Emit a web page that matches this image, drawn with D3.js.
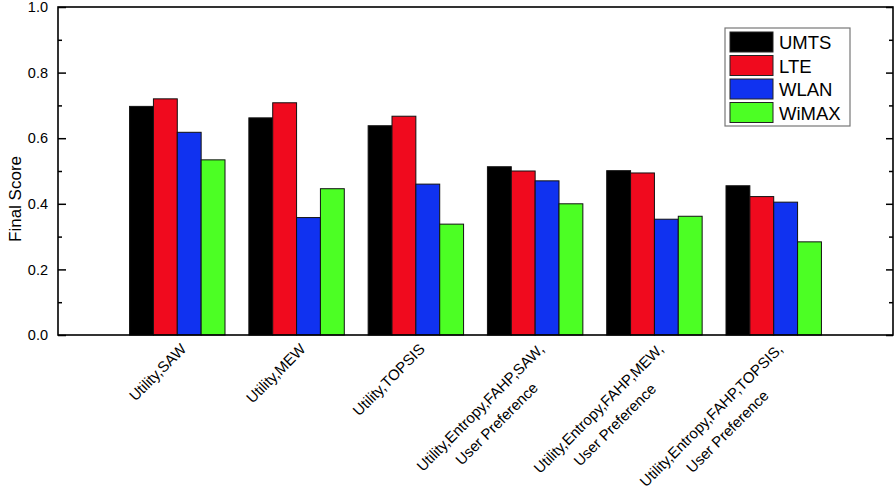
<!DOCTYPE html>
<html>
<head>
<meta charset="utf-8">
<script src="https://cdn.jsdelivr.net/npm/d3@7"></script>
<style>
  html, body { margin: 0; padding: 0; background: #fff; }
  svg { display: block; font-family: Arial, "Liberation Sans", sans-serif; }
</style>
</head>
<body>
<svg id="chart" width="895" height="495"></svg>
<script>
// ---- data ----
const categories = [
  ["Utility,SAW"],
  ["Utility,MEW"],
  ["Utility,TOPSIS"],
  ["Utility,Entropy,FAHP,SAW,", "User Preference"],
  ["Utility,Entropy,FAHP,MEW,", "User Preference"],
  ["Utility,Entropy,FAHP,TOPSIS,", "User Preference"]
];
const seriesNames = ["UMTS", "LTE", "WLAN", "WiMAX"];
const umts  = [0.697, 0.662, 0.638, 0.513, 0.501, 0.455];
const lte   = [0.720, 0.708, 0.667, 0.500, 0.494, 0.422];
const wlan  = [0.618, 0.358, 0.460, 0.470, 0.353, 0.405];
const wimax = [0.534, 0.446, 0.338, 0.400, 0.362, 0.284];
const yMajorTicks = [0.0, 0.2, 0.4, 0.6, 0.8, 1.0];
const yMinorTicks = [0.1, 0.3, 0.5, 0.7, 0.9];
const colors = ["#000000", "#F00A1E", "#1032F0", "#4CFF24"];
const yTitle = "Final Score";

const series = [umts, lte, wlan, wimax];

// ---- layout ----
const FONT = "Arial, 'Liberation Sans', sans-serif";
const svg = d3.select("#chart");
const L = 58, R = 893, T = 7, B = 335;
const x = d3.scaleLinear().domain([0, categories.length + 1]).range([L, R]);
const y = d3.scaleLinear().domain([0, 1]).range([B, T]);
const barW = 0.2;

// bars
series.forEach((vals, j) => {
  svg.append("g").selectAll("rect").data(vals).join("rect")
    .attr("x", (d, i) => x(i + 1 - 0.4 + j * barW))
    .attr("width", x(barW) - x(0))
    .attr("y", d => y(d))
    .attr("height", d => y(0) - y(d))
    .attr("fill", colors[j])
    .attr("stroke", "#111")
    .attr("stroke-width", 1);
});

// frame
svg.append("rect").attr("x", L).attr("y", T).attr("width", R - L).attr("height", B - T)
  .attr("fill", "none").attr("stroke", "#000").attr("stroke-width", 1.6);

// left axis
const leftAxis = d3.axisLeft(y).tickValues(yMajorTicks).tickFormat(d3.format(".1f"))
  .tickSizeInner(-8).tickSizeOuter(0).tickPadding(10);
const gl = svg.append("g").attr("transform", `translate(${L},0)`).call(leftAxis)
  .attr("font-family", FONT).attr("font-size", 14.5);
gl.select(".domain").remove();
gl.selectAll("line").attr("stroke", "#000").attr("stroke-width", 1.5);
gl.selectAll("text").attr("fill", "#000");
const glm = svg.append("g").attr("transform", `translate(${L},0)`)
  .call(d3.axisLeft(y).tickValues(yMinorTicks).tickSizeInner(-4).tickSizeOuter(0).tickFormat(""));
glm.select(".domain").remove();
glm.selectAll("line").attr("stroke", "#000").attr("stroke-width", 1.5);

// right axis
const gr = svg.append("g").attr("transform", `translate(${R},0)`)
  .call(d3.axisRight(y).tickValues(yMajorTicks).tickSizeInner(-7).tickSizeOuter(0).tickFormat(""));
gr.select(".domain").remove();
gr.selectAll("line").attr("stroke", "#000").attr("stroke-width", 1.5);
const grm = svg.append("g").attr("transform", `translate(${R},0)`)
  .call(d3.axisRight(y).tickValues(yMinorTicks).tickSizeInner(-4).tickSizeOuter(0).tickFormat(""));
grm.select(".domain").remove();
grm.selectAll("line").attr("stroke", "#000").attr("stroke-width", 1.5);

// y title
svg.append("text")
  .attr("transform", `translate(21,199) rotate(-90)`)
  .attr("text-anchor", "middle")
  .attr("font-family", FONT)
  .attr("font-size", 17)
  .attr("fill", "#000")
  .text(yTitle);

// x labels
const lineH = 23;
categories.forEach((lines, i) => {
  const g = svg.append("g")
    .attr("transform", `translate(${x(i + 1) + 10},${B + 15}) rotate(-45)`)
    .attr("font-family", FONT).attr("font-size", 15).attr("fill", "#000");
  const t1 = g.append("text").attr("text-anchor", "end").attr("x", 0).attr("y", 0).text(lines[0]);
  if (lines.length > 1) {
    const w1 = t1.node().getComputedTextLength();
    g.append("text").attr("text-anchor", "middle").attr("x", -w1 / 2).attr("y", lineH).text(lines[1]);
  }
});

// legend
const lg = svg.append("g");
lg.append("rect").attr("x", 725).attr("y", 28).attr("width", 125).attr("height", 98)
  .attr("fill", "#fff").attr("stroke", "#777").attr("stroke-width", 1.2);
seriesNames.forEach((name, j) => {
  const yy = 32 + j * 23.5;
  lg.append("rect").attr("x", 730).attr("y", yy).attr("width", 43).attr("height", 20)
    .attr("fill", colors[j]).attr("stroke", "#222").attr("stroke-width", 1);
  lg.append("text").attr("x", 779).attr("y", yy + 17).attr("font-family", FONT).attr("font-size", 18.5)
    .attr("fill", "#000").text(name);
});
</script>
</body>
</html>
